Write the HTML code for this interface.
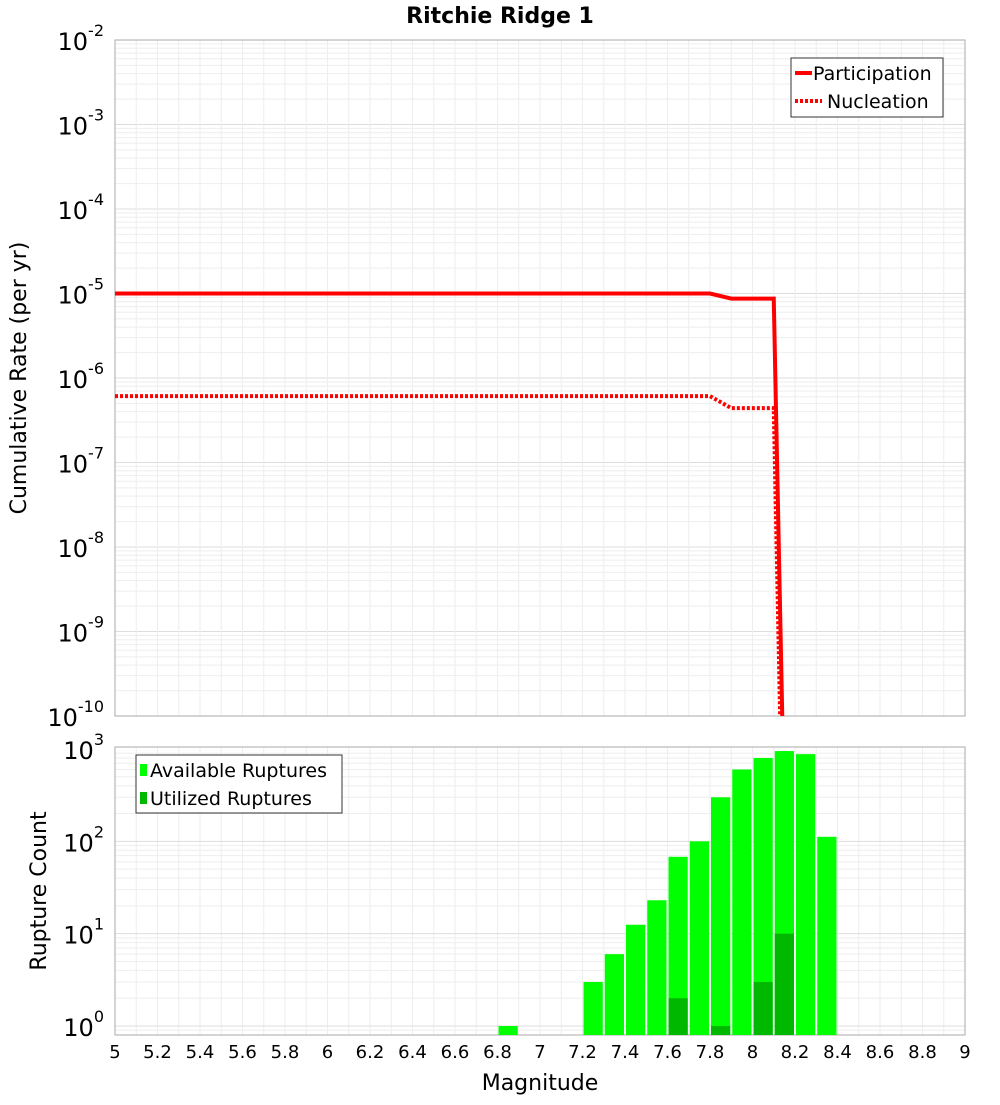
<!DOCTYPE html>
<html><head><meta charset="utf-8"><style>
body{margin:0;background:#fff;font-family:"Liberation Sans","DejaVu Sans",sans-serif;}
svg text{font-family:"DejaVu Sans","Liberation Sans",sans-serif;}
</style></head><body>
<svg id="chart" width="1000" height="1100" xmlns="http://www.w3.org/2000/svg">
<text x="500" y="23" text-anchor="middle" font-size="22" font-weight="bold">Ritchie Ridge 1</text>
<text transform="translate(26,378) rotate(-90)" text-anchor="middle" font-size="22">Cumulative Rate (per yr)</text>
<text transform="translate(46,891) rotate(-90)" text-anchor="middle" font-size="22">Rupture Count</text>
<text x="540" y="1090" text-anchor="middle" font-size="22">Magnitude</text>
<g id="topg"></g><g id="botg"></g>
</svg>
<script>
const xTicks=[5,5.2,5.4,5.6,5.8,6,6.2,6.4,6.6,6.8,7,7.2,7.4,7.6,7.8,8,8.2,8.4,8.6,8.8,9];
const partMags=[5,7.8,7.9,8.1,8.14];
const partRates=[1e-5,1e-5,8.7e-6,8.7e-6,1e-10];
const nuclMags=[5,7.8,7.9,8.1,8.13];
const nuclRates=[6.1e-7,6.1e-7,4.4e-7,4.4e-7,1e-10];
const binMags=[6.8,7.2,7.3,7.4,7.5,7.6,7.7,7.8,7.9,8.0,8.1,8.2,8.3];
const availCounts=[1,3,6,12.5,23,68,100,300,600,800,950,880,112];
const utilMags=[7.6,7.8,8.0,8.1];
const utilCounts=[2,1,3,10];

const NS="http://www.w3.org/2000/svg";
const X0=115,X1=965;
const x=m=>X0+(m-5)/4*(X1-X0);
const T0=40,T1=716; const yT=v=>T0+(-2-Math.log10(v))*(T1-T0)/8;
const B0=749,B1=1026; const yB=v=>B1-Math.log10(v)*(B1-B0)/3;
function mk(p,tag,a){const e=document.createElementNS(NS,tag);for(const k in a)e.setAttribute(k,a[k]);p.appendChild(e);return e;}
const topG=document.getElementById('topg'),botG=document.getElementById('botg');

for(let d=-10;d<-2;d++)for(let k=1;k<10;k++){const y=yT(k*Math.pow(10,d));
 const l=mk(topG,'line',{x1:X0,x2:X1,y1:y,y2:y,stroke:k==1?'#ddd':'#eee','stroke-width':1});
 
 }
for(let i=0;i<=40;i++){const xx=x(5+i*0.1);
 let l=mk(topG,'line',{x1:xx,x2:xx,y1:T0,y2:T1,stroke:'#eee'});
 
 
 l=mk(botG,'line',{x1:xx,x2:xx,y1:747,y2:1035,stroke:'#eee'});
 
 }
let f=mk(topG,'rect',{x:X0,y:T0,width:X1-X0,height:T1-T0,fill:'none',stroke:'#aaa'});


for(let d=-10;d<=-2;d++){const y=yT(Math.pow(10,d));
 const t=mk(topG,'text',{x:104,y:y+10,'text-anchor':'end','font-size':24});t.textContent='10';
 
 
 const s=mk(t,'tspan',{dy:-14,'font-size':16});s.textContent=String(d);}
function path(g,ms,rs,dash,name){let d='';ms.forEach((m,i)=>{d+=(i?'L':'M')+x(m)+','+yT(rs[i]);});
 const p=mk(g,'path',{d:d,fill:'none',stroke:'#f00','stroke-width':4});if(dash)p.setAttribute('stroke-dasharray','3,2');
 
 }
path(topG,partMags,partRates,false,'participation-line');
path(topG,nuclMags,nuclRates,true,'nucleation-line');
let lg=mk(topG,'g',{});


mk(lg,'rect',{x:791,y:58,width:152,height:59,fill:'#fff',stroke:'#333'});
mk(lg,'line',{x1:795,x2:812,y1:73,y2:73,stroke:'#f00','stroke-width':4});
mk(lg,'line',{x1:795,x2:822,y1:101,y2:101,stroke:'#f00','stroke-width':4,'stroke-dasharray':'3,2'});
let t=mk(lg,'text',{x:813,y:80,'font-size':19});t.textContent='Participation';
t=mk(lg,'text',{x:827,y:108,'font-size':19});t.textContent='Nucleation';

for(let d=-1;d<3;d++)for(let k=1;k<10;k++){const y=yB(k*Math.pow(10,d));if(y>1035||y<747)continue;
 const l=mk(botG,'line',{x1:X0,x2:X1,y1:y,y2:y,stroke:k==1?'#ddd':'#eee'});
 
 }
f=mk(botG,'rect',{x:X0,y:747,width:X1-X0,height:288,fill:'none',stroke:'#aaa'});


binMags.forEach((m,i)=>{const y=yB(availCounts[i]);
 const r=mk(botG,'rect',{x:x(m)+1,y:y,width:x(m+0.1)-x(m)-2,height:1035-y,fill:'#00ff00'});
 
 });
utilMags.forEach((m,i)=>{const y=yB(utilCounts[i]);
 const r=mk(botG,'rect',{x:x(m)+1,y:y,width:x(m+0.1)-x(m)-2,height:1035-y,fill:'#00b800'});
 
 });
for(let d=0;d<=3;d++){const y=yB(Math.pow(10,d));
 const t=mk(botG,'text',{x:104,y:y+10,'text-anchor':'end','font-size':24});t.textContent='10';
 
 
 const s=mk(t,'tspan',{dy:-14,'font-size':16});s.textContent=String(d);}
xTicks.forEach(v=>{const t=mk(botG,'text',{x:x(v),y:1058,'text-anchor':'middle','font-size':18});t.textContent=String(v);
 
 });
lg=mk(botG,'g',{});


mk(lg,'rect',{x:136,y:755,width:206,height:58,fill:'#fff',stroke:'#333'});
mk(lg,'rect',{x:140,y:764,width:7,height:12,fill:'#00ff00'});
mk(lg,'rect',{x:140,y:792,width:7,height:12,fill:'#00b800'});
t=mk(lg,'text',{x:150,y:777,'font-size':19});t.textContent='Available Ruptures';
t=mk(lg,'text',{x:150,y:805,'font-size':19});t.textContent='Utilized Ruptures';
</script>
</body></html>
